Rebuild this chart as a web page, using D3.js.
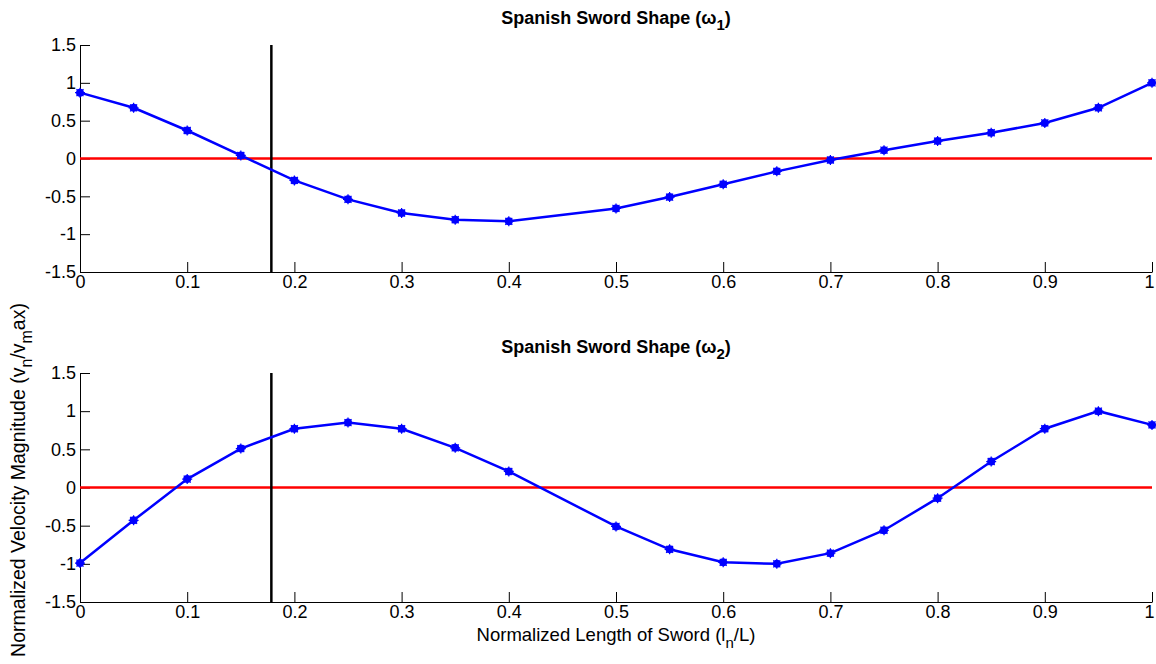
<!DOCTYPE html>
<html lang="en">
<head>
  <meta charset="UTF-8">
  <script src="https://d3js.org/d3.v7.min.js"></script>
  <title>Spanish Sword Shape</title>
  <style>
    body { margin: 0; background: #fff; }
    text { font-family: "Liberation Sans", Arial, sans-serif; }
  </style>
</head>
<body>
  <svg id="chart" width="1156" height="664"></svg>
  <script>
    // sample positions along the sword
    var xPos = [0, 0.05, 0.1, 0.15, 0.2, 0.25, 0.3, 0.35, 0.4, 0.5, 0.55, 0.6, 0.65, 0.7, 0.75, 0.8, 0.85, 0.9, 0.95, 1];
    // mode 1 and mode 2 normalized velocity
    var omega1 = [0.87, 0.67, 0.37, 0.04, -0.29, -0.54, -0.72, -0.81, -0.83, -0.66, -0.51, -0.34, -0.17, -0.02, 0.11, 0.23, 0.34, 0.47, 0.67, 1.0];
    var omega2 = [-0.99, -0.43, 0.11, 0.51, 0.77, 0.85, 0.77, 0.52, 0.21, -0.51, -0.81, -0.98, -1.0, -0.86, -0.56, -0.14, 0.34, 0.77, 1.0, 0.82];
    var xTicks = [0, 0.1, 0.2, 0.3, 0.4, 0.5, 0.6, 0.7, 0.8, 0.9, 1];
    var yTicks = [-1.5, -1, -0.5, 0, 0.5, 1, 1.5];
    var markerX = 0.1785;

    var svg = d3.select("#chart");
    var left = 80, right = 1152;

    var x = d3.scaleLinear().domain([0, 1]).range([left, right]);
    var fmt = function(d) { return String(d); };

    function panel(top, bottom, values, sub, titleY) {
      var y = d3.scaleLinear().domain([-1.5, 1.5]).range([bottom, top]);
      var g = svg.append("g");

      // axes
      g.append("g")
        .attr("transform", "translate(" + left + ",0)")
        .call(d3.axisLeft(y).tickValues(yTicks).tickFormat(fmt).tickSizeInner(-10).tickSizeOuter(0).tickPadding(4))
        .call(function(a) { a.selectAll("text").style("font-size", "18px").attr("fill", "#000"); });

      g.append("g")
        .attr("transform", "translate(0," + bottom + ")")
        .call(d3.axisBottom(x).tickValues(xTicks).tickFormat(fmt).tickSizeInner(-10).tickSizeOuter(0).tickPadding(3))
        .call(function(a) {
          a.selectAll("text").style("font-size", "18px").attr("fill", "#000");
          // keep the last label inside the page
          a.selectAll(".tick").filter(function(d) { return d === 1; }).select("text").attr("dx", -3);
        });

      svg.selectAll(".domain, .tick line").attr("stroke", "#000");

      // zero line
      g.append("line")
        .attr("x1", x(0)).attr("x2", x(1))
        .attr("y1", y(0)).attr("y2", y(0))
        .attr("stroke", "#ff0000").attr("stroke-width", 2.5);

      // vertical marker
      g.append("line")
        .attr("x1", x(markerX)).attr("x2", x(markerX))
        .attr("y1", top).attr("y2", bottom)
        .attr("stroke", "#000").attr("stroke-width", 2.5);

      var line = d3.line()
        .x(function(d, i) { return x(xPos[i]); })
        .y(function(d) { return y(d); });

      g.append("path")
        .datum(values)
        .attr("d", line)
        .attr("fill", "none")
        .attr("stroke", "#0000ff")
        .attr("stroke-width", 2.5);

      var pts = g.selectAll(".pt").data(values).enter().append("g")
        .attr("transform", function(d, i) { return "translate(" + x(xPos[i]) + "," + y(d) + ")"; });
      pts.append("circle").attr("r", 4).attr("fill", "#0000ff");
      pts.append("path")
        .attr("d", "M-5,0H5M0,-5V5M-3.5,-3.5L3.5,3.5M-3.5,3.5L3.5,-3.5")
        .attr("stroke", "#0000ff").attr("stroke-width", 1.2);

      // title
      var t = svg.append("text")
        .attr("x", (left + right) / 2)
        .attr("y", titleY)
        .attr("text-anchor", "middle")
        .style("font-size", "18px")
        .style("font-weight", "bold");
      t.append("tspan").text("Spanish Sword Shape (\u03c9");
      t.append("tspan").attr("dy", 6).style("font-size", "15px").text(sub);
      t.append("tspan").attr("dy", -6).text(")");
    }

    panel(45, 272, omega1, "1", 24);
    panel(373, 602, omega2, "2", 353);

    // x label
    var xl = svg.append("text")
      .attr("x", (left + right) / 2)
      .attr("y", 641)
      .attr("text-anchor", "middle")
      .style("font-size", "18.5px");
    xl.append("tspan").text("Normalized Length of Sword (l");
    xl.append("tspan").attr("dy", 7).style("font-size", "15px").text("n");
    xl.append("tspan").attr("dy", -7).text("/L)");

    // y label
    var yl = svg.append("text")
      .attr("transform", "translate(25,480) rotate(-90)")
      .attr("text-anchor", "middle")
      .style("font-size", "19.5px");
    yl.append("tspan").text("Normalized Velocity Magnitude (v");
    yl.append("tspan").attr("dy", 7).style("font-size", "16px").text("n");
    yl.append("tspan").attr("dy", -7).text("/v");
    yl.append("tspan").attr("dy", 7).style("font-size", "16px").text("m");
    yl.append("tspan").attr("dy", -7).text("ax)");
  </script>
</body>
</html>
